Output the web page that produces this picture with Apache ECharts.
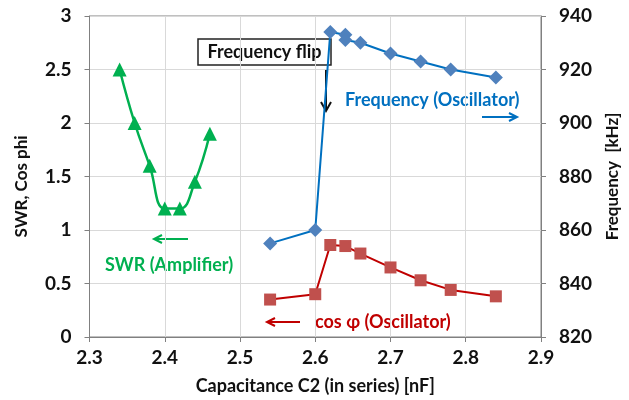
<!DOCTYPE html>
<html>
<head>
<meta charset="utf-8">
<script src="https://cdn.jsdelivr.net/npm/echarts@6/dist/echarts.min.js"></script>
<style>html,body{margin:0;padding:0;background:#fff}#c{width:629px;height:400px}</style>
</head>
<body>
<div id="c"></div>
<script>
// Data
var swrC = [2.34, 2.36, 2.38, 2.40, 2.42, 2.44, 2.46];
var swrV = [2.5, 2.0, 1.6, 1.2, 1.2, 1.45, 1.9];
var freqC = [2.54, 2.60, 2.62, 2.64, 2.64, 2.66, 2.70, 2.74, 2.78, 2.84];
var freqV = [855, 860, 934, 933, 931, 930, 926, 923, 920, 917];
var cosC = [2.54, 2.60, 2.62, 2.64, 2.66, 2.70, 2.74, 2.78, 2.84];
var cosV = [0.35, 0.40, 0.86, 0.85, 0.78, 0.65, 0.53, 0.44, 0.38];
var xTitle = 'Capacitance C2 (in series) [nF]';
var yLeftTitle = 'SWR, Cos phi';
var yRightTitle = 'Frequency  [kHz]';

function pairs(xs, ys){ return xs.map(function(x,i){ return [x, ys[i]]; }); }

var FONT = 'Lato';
var chart = echarts.init(document.getElementById('c'));
var axisLine = {show:true, lineStyle:{color:'#808080', width:1}};
var tick = {show:true, length:5, inside:false, lineStyle:{color:'#808080'}};
var split = {show:true, lineStyle:{color:'#D9D9D9', width:1}};
var lbl = {color:'#111', fontFamily:FONT, fontWeight:'bold', fontSize:19};

chart.setOption({
  animation:false,
  grid:{left:89.5, right:77, top:16, bottom:60, show:true, borderColor:'#808080', borderWidth:1},
  xAxis:{type:'value', min:2.3, max:2.9, interval:0.1,
    axisLine:axisLine, axisTick:tick, splitLine:split,
    axisLabel:Object.assign({margin:11, formatter:function(v){return v.toFixed(1);}}, lbl),
    name:xTitle, nameLocation:'middle', nameGap:40,
    nameTextStyle:{color:'#111', fontFamily:FONT, fontWeight:'bold', fontSize:18}},
  yAxis:[
    {type:'value', min:0, max:3, interval:0.5, position:'left',
     axisLine:axisLine, axisTick:tick, splitLine:split,
     axisLabel:Object.assign({margin:18}, lbl),
     name:yLeftTitle, nameLocation:'middle', nameGap:59,
     nameTextStyle:{color:'#111', fontFamily:FONT, fontWeight:'bold', fontSize:17, padding:[0,0,0,-20]}},
    {type:'value', min:820, max:940, interval:20, position:'right',
     axisLine:axisLine, axisTick:tick, splitLine:{show:false},
     axisLabel:Object.assign({margin:18}, lbl),
     name:yRightTitle, nameLocation:'middle', nameGap:63,
     nameTextStyle:{color:'#111', fontFamily:FONT, fontWeight:'bold', fontSize:17}}
  ],
  series:[
    {type:'line', name:'SWR', yAxisIndex:0, data:pairs(swrC, swrV), smooth:0.45,
     symbol:'triangle', symbolSize:14,
     lineStyle:{color:'#00B050', width:2.5}, itemStyle:{color:'#00B050'}},
    {type:'line', name:'Frequency', yAxisIndex:1, data:pairs(freqC, freqV),
     symbol:'diamond', symbolSize:14,
     lineStyle:{color:'#0070C0', width:2}, itemStyle:{color:'#4F81BD'}},
    {type:'line', name:'cos', yAxisIndex:0, data:pairs(cosC, cosV),
     symbol:'rect', symbolSize:12,
     lineStyle:{color:'#C00000', width:2}, itemStyle:{color:'#C0504D'}}
  ],
  graphic:[
    {type:'rect', shape:{x:198, y:39, width:133, height:26}, style:{fill:'#fff', stroke:'#222', lineWidth:1.5}},
    {type:'text', x:264.5, y:52, style:{text:'Frequency flip', fill:'#111', font:'bold 18px Lato', align:'center', verticalAlign:'middle'}},
    {type:'line', shape:{x1:326, y1:70, x2:326, y2:110}, style:{stroke:'#111', lineWidth:2}},
    {type:'polyline', shape:{points:[[321,102],[326,111],[331,102]]}, style:{stroke:'#111', lineWidth:2, fill:null}},

    {type:'text', x:345, y:100, style:{text:'Frequency (Oscillator)', fill:'#0070C0', font:'bold 18px Lato', align:'left', verticalAlign:'middle'}},
    {type:'line', shape:{x1:482, y1:117, x2:516, y2:117}, style:{stroke:'#0070C0', lineWidth:2}},
    {type:'polyline', shape:{points:[[509,113],[517,117],[509,121]]}, style:{stroke:'#0070C0', lineWidth:2, fill:null}},

    {type:'text', x:105, y:265, style:{text:'SWR (Amplifier)', fill:'#00B050', font:'bold 18px Lato', align:'left', verticalAlign:'middle'}},
    {type:'line', shape:{x1:188, y1:239, x2:155, y2:239}, style:{stroke:'#00B050', lineWidth:2}},
    {type:'polyline', shape:{points:[[162,235],[154,239],[162,243]]}, style:{stroke:'#00B050', lineWidth:2, fill:null}},

    {type:'text', x:315, y:322, style:{text:'cos φ (Oscillator)', fill:'#C00000', font:'bold 18px Lato', align:'left', verticalAlign:'middle'}},
    {type:'line', shape:{x1:300, y1:322, x2:268, y2:322}, style:{stroke:'#C00000', lineWidth:2}},
    {type:'polyline', shape:{points:[[275,318],[267,322],[275,326]]}, style:{stroke:'#C00000', lineWidth:2, fill:null}}
  ]
});
</script>
</body>
</html>
